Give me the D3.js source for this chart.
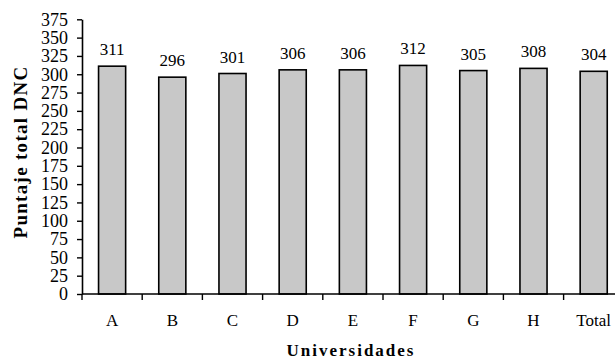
<!DOCTYPE html>
<html><head><meta charset="utf-8">
<script src="https://cdn.jsdelivr.net/npm/d3@7"></script>
<style>body{margin:0;background:#fff}svg{display:block}</style>
</head><body>
<svg id="c" width="615" height="360"></svg>
<script>
const categories = ["A","B","C","D","E","F","G","H","Total"];
const values = [311,296,301,306,306,312,305,308,304];
const yTicks = [0,25,50,75,100,125,150,175,200,225,250,275,300,325,350,375];

const svg = d3.select("#c");
const font = "Liberation Serif, Times New Roman, serif";
const x0 = 82, y0 = 294, yTop = 19.3;
const x = d3.scaleBand().domain(categories).range([x0, x0 + 9*60.2]).paddingInner(0.55).paddingOuter(0.275);
const y = d3.scaleLinear().domain([0,375]).range([y0, yTop]);

// bars
svg.selectAll("rect.bar").data(values).enter().append("rect")
  .attr("x",(d,i)=>x(categories[i])).attr("width",x.bandwidth())
  .attr("y",d=>y(d)).attr("height",d=>y0-y(d))
  .attr("fill","#c8c8c8").attr("stroke","#000").attr("stroke-width",1.6);

// value labels
svg.selectAll("text.val").data(values).enter().append("text")
  .attr("x",(d,i)=>x(categories[i])+x.bandwidth()/2).attr("y",d=>y(d)-11)
  .attr("text-anchor","middle").attr("font-family",font).attr("font-size",17)
  .text(d=>d);

// y axis
const yAxis = d3.axisLeft(y).tickValues(yTicks).tickSize(5).tickPadding(9).tickSizeOuter(0);
const gy = svg.append("g").attr("transform",`translate(${x0},0)`).call(yAxis);
gy.select(".domain").attr("stroke","#000").attr("stroke-width",1.6);
gy.selectAll(".tick line").attr("stroke","#000").attr("stroke-width",1.4);
gy.selectAll(".tick text").attr("font-family",font).attr("font-size",18).attr("fill","#000");

// x axis: ticks at band boundaries
const gx = svg.append("g");
gx.append("line").attr("x1",x0).attr("x2",615).attr("y1",y0).attr("y2",y0).attr("stroke","#000").attr("stroke-width",1.6);
const step = x.step();
const boundaries = categories.map((c,i)=> x.range()[0] + i*step).concat([x.range()[0]+categories.length*step]);
gx.selectAll("line.tk").data(boundaries).enter().append("line")
  .attr("x1",d=>d).attr("x2",d=>d).attr("y1",y0).attr("y2",y0+6)
  .attr("stroke","#000").attr("stroke-width",1.4);
gx.selectAll("text.cat").data(categories).enter().append("text")
  .attr("x",c=>x(c)+x.bandwidth()/2).attr("y",326)
  .attr("text-anchor","middle").attr("font-family",font).attr("font-size",17)
  .text(c=>c);

// axis titles
svg.append("text").attr("x",351).attr("y",356)
  .attr("text-anchor","middle").attr("font-family",font).attr("font-size",17).attr("font-weight","bold")
  .attr("letter-spacing",2)
  .text("Universidades");
svg.append("text").attr("transform","translate(27,152) rotate(-90)")
  .attr("text-anchor","middle").attr("font-family",font).attr("font-size",19).attr("font-weight","bold")
  .attr("letter-spacing",1.3)
  .text("Puntaje total DNC");
</script>
</body></html>
